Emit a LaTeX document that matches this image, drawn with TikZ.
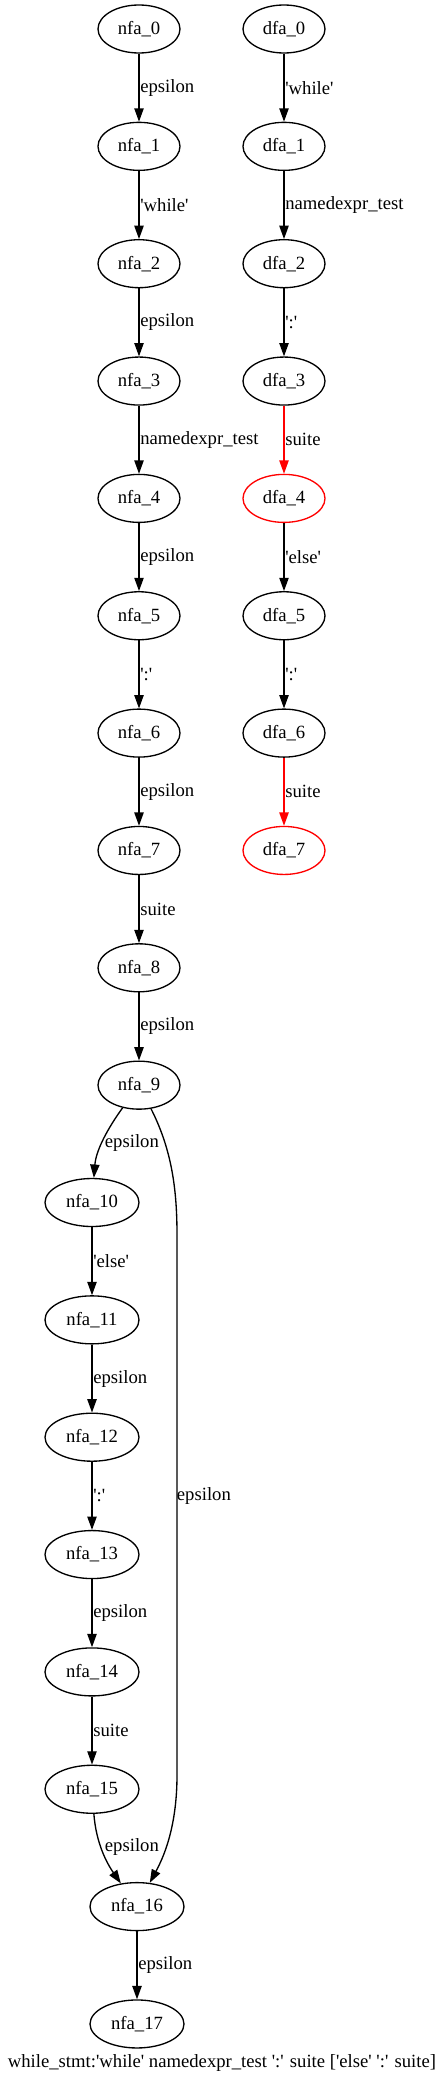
\documentclass[tikz,border=0pt]{standalone}
\usepackage{fontspec}
\newfontfamily\gv{Liberation Serif}
\usetikzlibrary{arrows.meta,shapes.geometric}
\newlength\pxu
\setlength\pxu{0.75pt}
\tikzset{
  st/.style={draw, ellipse, line width=1pt, minimum width=82\pxu, minimum height=48\pxu, inner sep=0pt, font=\gv\fontsize{14}{16}\selectfont},
  wide/.style={minimum width=94\pxu},
  hot/.style={draw=red},
  edge/.style={line width=1pt, -{Triangle[length=10pt,width=7pt]}},
  lab/.style={anchor=west, inner sep=0.5pt, font=\gv\fontsize{14}{16}\selectfont, text=black},
}
\begin{document}
\begin{tikzpicture}[x=0.75pt, y=-0.75pt]
\useasboundingbox (0,0) rectangle (445,2084);
% NFA nodes
\foreach \k in {0,...,9} {
  \node[st] (nfa\k) at (139,{29+117.35*\k}) {nfa\_\k};
}
\foreach \k in {10,...,15} {
  \node[st,wide] (nfa\k) at (92,{29+117.35*\k}) {nfa\_\k};
}
\foreach \k in {16,17} {
  \node[st,wide] (nfa\k) at (137,{29+117.35*\k}) {nfa\_\k};
}
% DFA nodes
\foreach \k in {0,1,2,3,5,6} {
  \node[st] (dfa\k) at (284,{29+117.35*\k}) {dfa\_\k};
}
\foreach \k in {4,7} {
  \node[st,hot] (dfa\k) at (284,{29+117.35*\k}) {dfa\_\k};
}
% NFA straight edges
\draw[edge] (nfa0) -- node[lab]{epsilon} (nfa1);
\draw[edge] (nfa1) -- node[lab]{'while'} (nfa2);
\draw[edge] (nfa2) -- node[lab]{epsilon} (nfa3);
\draw[edge] (nfa3) -- node[lab]{namedexpr\_test} (nfa4);
\draw[edge] (nfa4) -- node[lab]{epsilon} (nfa5);
\draw[edge] (nfa5) -- node[lab]{':'} (nfa6);
\draw[edge] (nfa6) -- node[lab]{epsilon} (nfa7);
\draw[edge] (nfa7) -- node[lab]{suite} (nfa8);
\draw[edge] (nfa8) -- node[lab]{epsilon} (nfa9);
\draw[edge] (nfa10) -- node[lab]{'else'} (nfa11);
\draw[edge] (nfa11) -- node[lab]{epsilon} (nfa12);
\draw[edge] (nfa12) -- node[lab]{':'} (nfa13);
\draw[edge] (nfa13) -- node[lab]{epsilon} (nfa14);
\draw[edge] (nfa14) -- node[lab]{suite} (nfa15);
\draw[edge] (nfa16) -- node[lab]{epsilon} (nfa17);
% NFA curved edges
\draw[edge] (nfa9) .. controls (108,1128) and (96,1150) .. (nfa10);
\node[lab] (l910) at (104,1143) {epsilon};
\coordinate (la) at (177,1235);
\coordinate (lb) at (177,1775);
\draw[edge] (nfa9) .. controls (172,1150) and (177,1190) .. (la) -- (lb) .. controls (177,1830) and (162,1860) .. (nfa16);
\node[lab] (l916) at (176,1496) {epsilon};
\draw[edge] (nfa15) .. controls (96,1842) and (106,1862) .. (nfa16);
\node[lab] (l1516) at (104,1847) {epsilon};
% DFA edges
\draw[edge] (dfa0) -- node[lab]{'while'} (dfa1);
\draw[edge] (dfa1) -- node[lab]{namedexpr\_test} (dfa2);
\draw[edge] (dfa2) -- node[lab]{':'} (dfa3);
\draw[edge,red] (dfa3) -- node[lab]{suite} (dfa4);
\draw[edge] (dfa4) -- node[lab]{'else'} (dfa5);
\draw[edge] (dfa5) -- node[lab]{':'} (dfa6);
\draw[edge,red] (dfa6) -- node[lab]{suite} (dfa7);
% caption
\node[font=\gv\fontsize{14}{16}\selectfont, inner sep=0pt] (cap) at (222,2063) {while\_stmt:'while' namedexpr\_test ':' suite ['else' ':' suite]};
\end{tikzpicture}
\end{document}
